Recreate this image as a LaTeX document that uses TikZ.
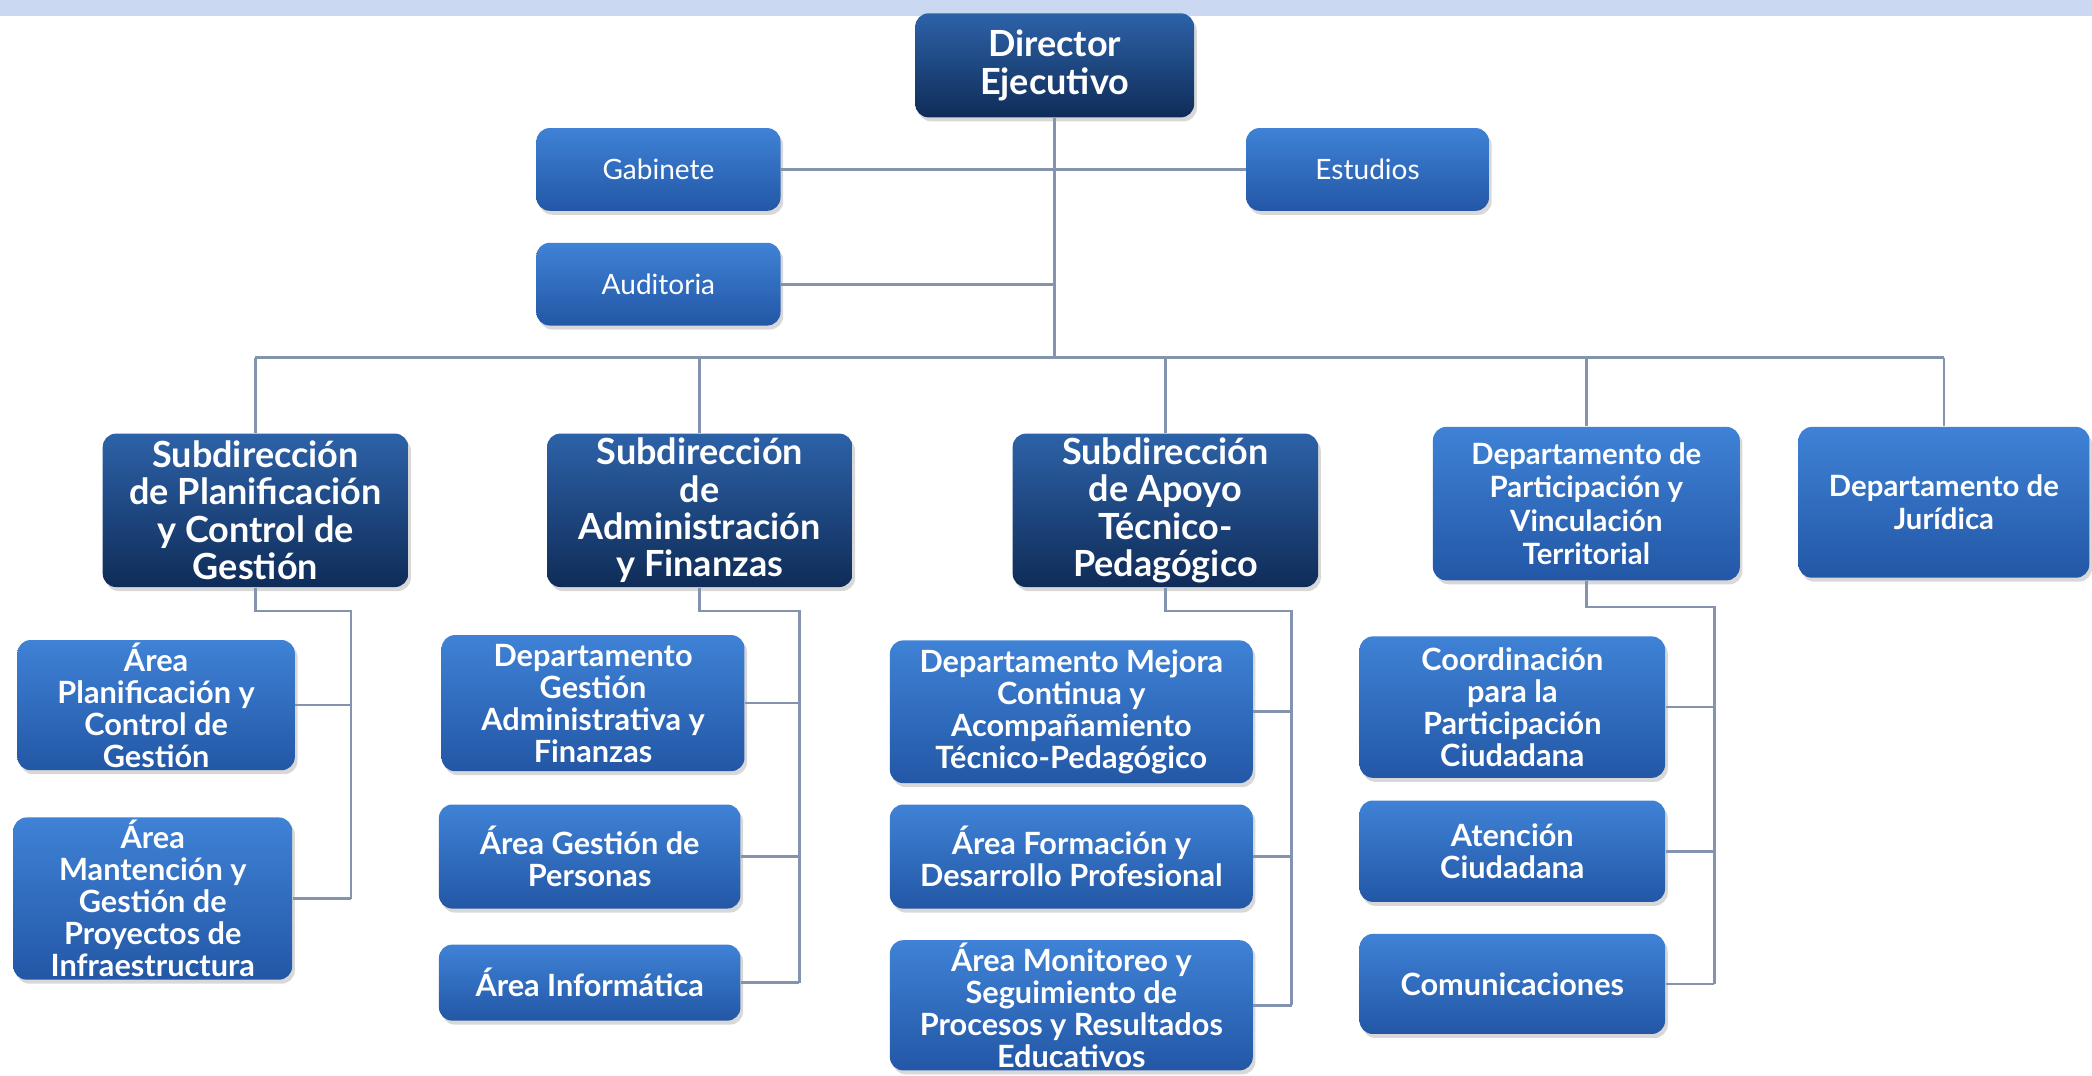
\documentclass[tikz,border=0pt]{standalone}
\usepackage{fontspec}
\setmainfont{Lato}
\usetikzlibrary{shadows}
\definecolor{lineC}{HTML}{8494AE}
\definecolor{darkTop}{HTML}{2D62A8}
\definecolor{darkBot}{HTML}{0F2C58}
\definecolor{medTop}{HTML}{3F82D6}
\definecolor{medBot}{HTML}{2357A6}
\definecolor{band}{HTML}{CAD8F1}
\tikzset{
 box/.style={rounded corners=5pt, inner sep=1pt, align=center, text=white,
   drop shadow={opacity=0.3,shadow xshift=1pt,shadow yshift=-1.5pt}},
 darkbox/.style={box, top color=darkTop, bottom color=darkBot, font=\bfseries\fontsize{13.5}{14}\selectfont},
 medbox/.style={box, top color=medTop, bottom color=medBot, font=\bfseries\fontsize{11.5}{12}\selectfont},
 partbox/.style={box, top color=medTop, bottom color=medBot, font=\bfseries\fontsize{11}{12.5}\selectfont},
 smallbox/.style={box, top color=medTop, bottom color=medBot, font=\fontsize{10.5}{12}\selectfont},
 sz/.style n args={2}{minimum width={#1*0.5pt}, minimum height={#2*0.5pt}},
 conn/.style={draw=lineC, line width=1pt},
}
\begin{document}
\begin{tikzpicture}[x=0.5pt,y=-0.5pt]
\useasboundingbox (0,0) rectangle (1568,806);
\fill[white] (0,0) rectangle (1568,806);
\fill[band] (0,0) rectangle (1568,12);

\node[darkbox, sz={209}{78}] (dir) at (790.5,49) {Director\\Ejecutivo};
\node[smallbox, sz={183}{62}] (gab) at (493.5,127) {Gabinete};
\node[smallbox, sz={182}{62}] (est) at (1025,127) {Estudios};
\node[smallbox, sz={183}{62}] (aud) at (493.5,213) {Auditoria};

\node[darkbox, sz={229}{115}] (s1) at (191.5,382.5) {Subdirección\\de Planificación\\y Control de\\Gestión};
\node[darkbox, sz={229}{115}] (s2) at (524.5,382.5) {Subdirección\\de\\Administración\\y Finanzas};
\node[darkbox, sz={229}{115}] (s3) at (873.5,382.5) {Subdirección\\de Apoyo\\Técnico-\\Pedagógico};
\node[partbox, sz={230}{115}] (dp) at (1189,377.5) {Departamento de\\Participación y\\Vinculación\\Territorial};
\node[partbox, sz={218}{113}] (dj) at (1457,376.5) {Departamento de\\Jurídica};

\node[medbox, sz={208}{97}] (c11) at (117,528.5) {Área\\Planificación y\\Control de\\Gestión};
\node[medbox, sz={209}{117}] (c12) at (114.5,673.5) {Área\\Mantención y\\Gestión de\\Proyectos de\\Infraestructura};

\node[medbox, sz={227}{102}] (c21) at (444.5,527) {Departamento\\Gestión\\Administrativa y\\Finanzas};
\node[medbox, sz={226}{78}] (c22) at (442,642) {Área Gestión de\\Personas};
\node[medbox, sz={226}{57}] (c23) at (442,736.5) {Área Informática};

\node[medbox, sz={272}{107}] (c31) at (803,533.5) {Departamento Mejora\\Continua y\\Acompañamiento\\Técnico-Pedagógico};
\node[medbox, sz={272}{78}] (c32) at (803,642) {Área Formación y\\Desarrollo Profesional};
\node[medbox, sz={272}{93}] (c33) at (803,753.5) {Área Monitoreo y\\Seguimiento de\\Procesos y Resultados\\Educativos};

\node[medbox, sz={229}{106}] (c41) at (1133.5,530) {Coordinación\\para la\\Participación\\Ciudadana};
\node[medbox, sz={229}{76}] (c42) at (1133.5,638) {Atención\\Ciudadana};
\node[medbox, sz={229}{75}] (c43) at (1133.5,737.5) {Comunicaciones};

% top connectors
\coordinate (busy) at (0,268);
\draw[conn] (dir.south) -- (dir.south |- busy);
\draw[conn] (gab.east) -- (est.west);
\draw[conn] (aud.east) -- (aud.east -| dir.south);
\draw[conn] (s1.north |- busy) -- (dj.north |- busy);
\foreach \n in {s1,s2,s3,dp,dj}{\draw[conn] (\n.north) -- (\n.north |- busy);}

% children connectors
\coordinate (k1) at (263,458);
\draw[conn] (s1.south) |- (k1) -- (k1 |- c12.east);
\draw[conn] (c11.east) -- (c11.east -| k1);
\draw[conn] (c12.east) -- (c12.east -| k1);

\coordinate (k2) at (599,458);
\draw[conn] (s2.south) |- (k2) -- (k2 |- c23.east);
\foreach \n in {c21,c22,c23}{\draw[conn] (\n.east) -- (\n.east -| k2);}

\coordinate (k3) at (968,458);
\draw[conn] (s3.south) |- (k3) -- (k3 |- c33.east);
\foreach \n in {c31,c32,c33}{\draw[conn] (\n.east) -- (\n.east -| k3);}

\coordinate (k4) at (1285,455);
\draw[conn] (dp.south) |- (k4) -- (k4 |- c43.east);
\foreach \n in {c41,c42,c43}{\draw[conn] (\n.east) -- (\n.east -| k4);}
\end{tikzpicture}
\end{document}
